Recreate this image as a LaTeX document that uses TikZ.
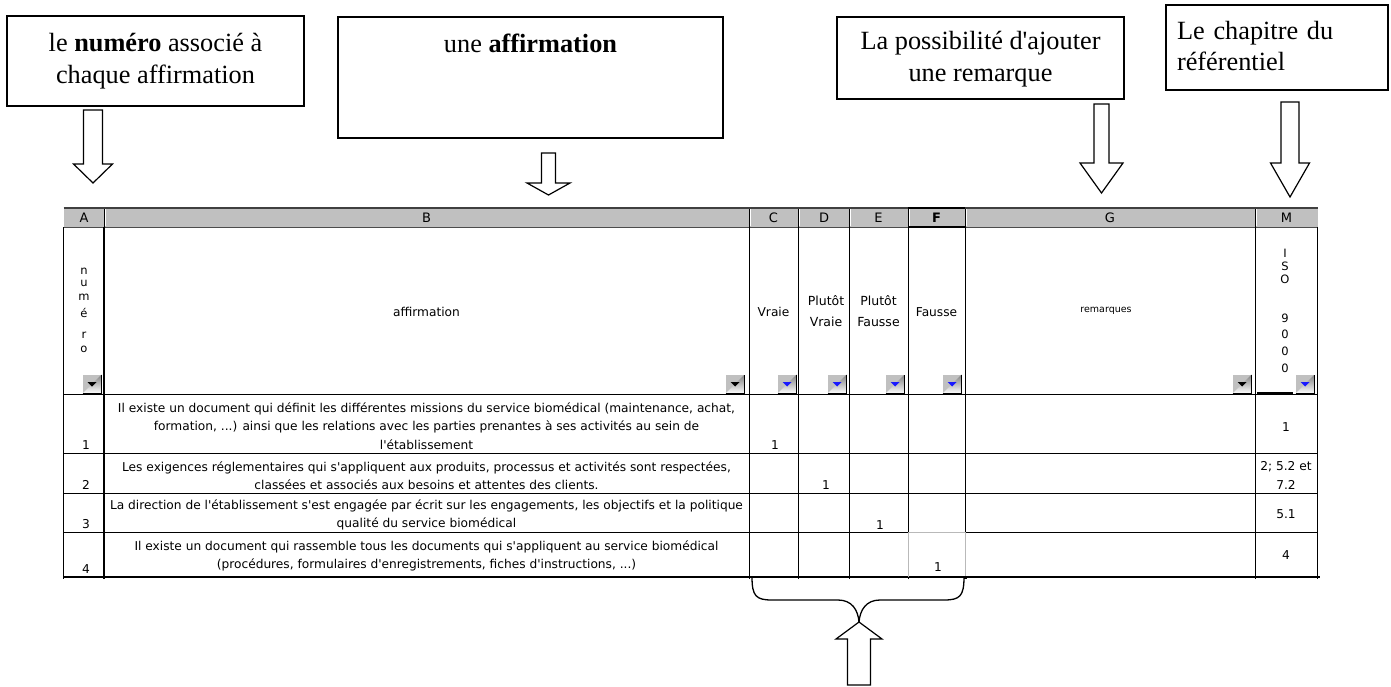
\documentclass[tikz,border=0pt]{standalone}
\usepackage{fontspec}
\setmainfont{Liberation Serif}[Ligatures=TeXOff]
\newfontfamily\tabfont{DejaVu Sans}[Ligatures=TeXOff]
\definecolor{hdrgrey}{HTML}{C0C0C0}
\definecolor{shade}{HTML}{808080}
\definecolor{btnblue}{HTML}{1A1AFF}
\newcommand\blockdown[6]{\draw[blockarrow] ({#1-#5},#2) -- ({#1+#5},#2) -- ({#1+#5},#3) -- ({#1+#6},#3) -- (#1,#4) -- ({#1-#6},#3) -- ({#1-#5},#3) -- cycle;}
\newcommand\ddbtn[3]{%
  \fill[hdrgrey] (#1,#2) rectangle ({#1+20},{#2+20});
  \draw[white,line width=1pt] ({#1+0.5},{#2+19.5}) -- ({#1+0.5},{#2+0.5}) -- ({#1+19.5},{#2+0.5});
  \draw[shade,line width=1pt] ({#1+0.5},{#2+19.5}) -- ({#1+19.5},{#2+19.5}) -- ({#1+19.5},{#2+0.5});
  \fill[#3] ({#1+5.5},{#2+8}) -- ({#1+14.5},{#2+8}) -- ({#1+10},{#2+12.5}) -- cycle;}
\begin{document}
\begin{tikzpicture}[x=1pt,y=-1pt,
  box/.style={draw=black, line width=1.2pt, inner sep=0pt},
  boxtext/.style={font=\fontsize{26.3}{31.5}\selectfont, align=center, inner sep=0pt},
  blockarrow/.style={draw=black, line width=1.2pt, fill=white, line join=miter},
  bracestyle/.style={draw=black, line width=1.3pt},
  cell/.style={font=\tabfont\fontsize{12.2}{18.5}\selectfont, align=center, inner sep=0pt},
  cell2/.style={font=\tabfont\fontsize{12.5}{21.5}\selectfont, align=center, inner sep=0pt},
  hdr/.style={font=\tabfont\fontsize{13}{14}\selectfont, inner sep=0pt},
  vlet/.style={font=\tabfont\fontsize{11.5}{13}\selectfont, inner sep=0pt},
  grid/.style={draw=black, line width=0.9pt},
]
\useasboundingbox (0,0) rectangle (1391,686);
\fill[white] (0,0) rectangle (1391,686);

% ---------- callout boxes ----------
\node[box, minimum width=297pt, minimum height=90pt] (b1) at (155.5,61) {};
\node[box, minimum width=385pt, minimum height=121pt] (b2) at (530.5,77.5) {};
\node[box, minimum width=287pt, minimum height=82pt] (b3) at (980.5,58) {};
\node[box, minimum width=222pt, minimum height=85pt] (b4) at (1277,47.5) {};

\node[boxtext] (t1) at (155.5,61) {le \textbf{numéro} associé à\\chaque affirmation};
\node[boxtext, anchor=base] (t2) at (530.5,52) {une \textbf{affirmation}};
\node[boxtext] (t3) at (980.5,59) {La possibilité d'ajouter\\une remarque};
\node[boxtext, align=left, text width=197pt] (t4) at (1275.5,46) {\makebox[197pt][s]{Le chapitre du}\\référentiel};

% ---------- block arrows ----------
\blockdown{93}{110}{164}{183}{9.5}{19.5}
\blockdown{548.5}{153}{183}{195}{7}{21.5}
\blockdown{1101.5}{104}{163}{193}{7.5}{21.5}
\blockdown{1290}{102}{163}{197}{9}{19.5}

% ---------- spreadsheet header ----------
\fill[hdrgrey] (63.5,207.5) rectangle (1317.5,227);
\foreach \x in {104,749,798.5,849.5,908,965,1255.5} {
  \draw[shade, line width=1pt] (\x,208) -- (\x,227);
  \draw[white, line width=1pt] ({\x+1},208) -- ({\x+1},226);
}
\draw[black!75, line width=2pt] (63.5,207.5) -- (1317.5,207.5);
\draw[black!70, line width=1pt] (63.5,227) -- (1317.5,227);
\draw[black, line width=1.6pt] (908,208) -- (965,208);
\draw[black, line width=1.6pt] (908,227) -- (965,227);

\node[hdr] (hA) at (84,217.5) {A};
\node[hdr] (hBl) at (426.5,217.5) {B};
\node[hdr] (hCl) at (773.5,217.5) {C};
\node[hdr] (hDl) at (824,217.5) {D};
\node[hdr] (hEl) at (878.5,217.5) {E};
\node[hdr] (hFl) at (936.5,217.5) {\textbf{F}};
\node[hdr] (hGl) at (1110,217.5) {G};
\node[hdr] (hMl) at (1286.5,217.5) {M};

% ---------- grid ----------
\foreach \x in {63.5,749,798.5,849.5,908,965,1255.5,1317.5}
  \draw[grid] (\x,227) -- (\x,579);
\draw[black, line width=2pt] (104,227) -- (104,579);
\draw[black, line width=1.5pt] (63.5,394.5) -- (1317.5,394.5);
\foreach \y in {453.5,493,532.5}
  \draw[grid] (63.5,\y) -- (1317.5,\y);
\draw[black, line width=1.2pt] (63.5,577) -- (1320,577);
\draw[black, line width=2pt] (1257,392.5) -- (1293,392.5);

% selected cell F4
\draw[white, line width=1.4pt] (908,533.5) -- (908,576);
\draw[white, line width=1.4pt] (965,533.5) -- (965,576);
\draw[white, line width=1.4pt] (909,532.5) -- (964,532.5);
\draw[gray!55, line width=0.6pt] (908,576.5) -- (908,532.5) -- (965,532.5) -- (965,576.5);
\fill[black] (963.5,575.5) rectangle (967,579);

% ---------- dropdown buttons ----------
\ddbtn{82}{374}{black}
\ddbtn{725}{374}{black}
\ddbtn{777}{374}{btnblue}
\ddbtn{827}{374}{btnblue}
\ddbtn{885}{374}{btnblue}
\ddbtn{942}{374}{btnblue}
\ddbtn{1232}{374}{black}
\ddbtn{1295}{374}{btnblue}

% ---------- header row 2 texts ----------
\foreach \l/\y [count=\i] in {n/271,u/283,m/297,é/313,r/335,o/349}
  \node[vlet] (va\i) at (84,\y) {\l};
\foreach \l/\y [count=\i] in {I/253,S/266,O/279,9/318,0/334,0/351,0/368}
  \node[vlet] (vm\i) at (1285,\y) {\l};
\node[cell] (hB) at (426.5,312) {affirmation};
\node[cell] (hC) at (773.5,312) {Vraie};
\node[cell2] (hD) at (826,311) {Plutôt\\Vraie};
\node[cell2] (hE) at (878.5,311) {Plutôt\\Fausse};
\node[cell] (hF) at (936.5,312) {Fausse};
\node[cell, font=\tabfont\fontsize{9.5}{11}\selectfont] (hG) at (1106,311) {remarques};

% ---------- data rows ----------
\node[cell] (r1) at (426.5,426) {Il existe un document qui définit les différentes missions du service biomédical (maintenance, achat,\\formation, ...) ainsi que les relations avec les parties prenantes à ses activités au sein de\\l'établissement};
\node[cell] (r2) at (426.5,475.5) {Les exigences réglementaires qui s'appliquent aux produits, processus et activités sont respectées,\\classées et associés aux besoins et attentes des clients.};
\node[cell] (r3) at (426.5,515) {La direction de l'établissement s'est engagée par écrit sur les engagements, les objectifs et la politique\\qualité du service biomédical};
\node[cell] (r4) at (426.5,556) {Il existe un document qui rassemble tous les documents qui s'appliquent au service biomédical\\(procédures, formulaires d'enregistrements, fiches d'instructions, ...)};

\node[cell] (n1) at (86,445) {1};
\node[cell] (n2) at (86,485) {2};
\node[cell] (n3) at (86,524) {3};
\node[cell] (n4) at (86,569) {4};
\node[cell] (c1) at (775,445) {1};
\node[cell] (d2) at (826,485) {1};
\node[cell] (e3) at (880,525) {1};
\node[cell] (f4) at (938,567) {1};
\node[cell] (m1) at (1286,427) {1};
\node[cell] (m2) at (1286,475.5) {2; 5.2 et\\7.2};
\node[cell] (m3) at (1286,514) {5.1};
\node[cell] (m4) at (1286,555) {4};

% ---------- brace and upward arrow ----------
\coordinate (brL) at (752,577);
\coordinate (brR) at (964,577);
\coordinate (brTip) at (859,622);
\draw[bracestyle] (brL) .. controls (752,596) and (756,600) .. (772,600) -- (838,600) .. controls (852,600) and (858,610) .. (brTip);
\draw[bracestyle] (brR) .. controls (964,596) and (960,600) .. (944,600) -- (880,600) .. controls (866,600) and (860,610) .. (brTip);
\draw[blockarrow] (847.5,685) -- (870.5,685) -- (870.5,639) -- (882,639) -- (brTip) -- (836,639) -- (847.5,639) -- cycle;
\end{tikzpicture}
\end{document}
